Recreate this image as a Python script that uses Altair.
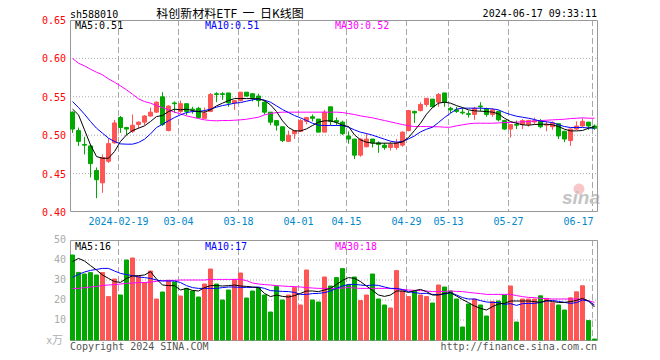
import altair as alt
import pandas as pd

# ---------------- data ----------------
opens = [0.530,0.506,0.488,0.486,0.454,0.438,0.466,0.490,0.523,0.510,
         0.505,0.514,0.517,0.525,0.530,0.550,0.506,0.542,0.531,0.541,
         0.534,0.535,0.522,0.531,0.554,0.554,0.555,0.542,0.545,0.556,
         0.554,0.551,0.543,0.530,0.519,0.511,0.492,0.502,0.505,0.518,
         0.524,0.521,0.504,0.537,0.519,0.517,0.499,0.495,0.474,0.485,
         0.495,0.490,0.487,0.484,0.484,0.487,0.506,0.531,0.532,0.540,
         0.547,0.543,0.555,0.535,0.533,0.530,0.528,0.527,0.538,0.534,
         0.527,0.531,0.519,0.508,0.514,0.514,0.514,0.5172,0.519,0.513,
         0.511,0.515,0.505,0.493,0.508,0.512,0.517,0.512]
closes = [0.508,0.492,0.487,0.463,0.442,0.471,0.489,0.516,0.510,0.508,
          0.513,0.517,0.525,0.530,0.543,0.514,0.538,0.541,0.541,0.531,
          0.533,0.523,0.529,0.553,0.553,0.553,0.542,0.545,0.556,0.551,
          0.549,0.545,0.530,0.517,0.513,0.493,0.500,0.506,0.519,0.523,
          0.522,0.504,0.530,0.518,0.517,0.502,0.495,0.474,0.495,0.495,
          0.490,0.488,0.484,0.488,0.490,0.504,0.532,0.529,0.540,0.548,
          0.537,0.553,0.543,0.533,0.531,0.529,0.527,0.535,0.537,0.527,
          0.533,0.520,0.508,0.514,0.513,0.519,0.519,0.5187,0.511,0.514,
          0.516,0.499,0.495,0.508,0.512,0.518,0.512,0.509]
highs = [0.531,0.510,0.498,0.488,0.458,0.475,0.496,0.520,0.525,0.511,
         0.527,0.518,0.526,0.536,0.544,0.556,0.539,0.544,0.545,0.541,
         0.537,0.537,0.536,0.555,0.556,0.556,0.555,0.545,0.556,0.556,
         0.554,0.554,0.545,0.530,0.519,0.511,0.506,0.506,0.521,0.524,
         0.527,0.521,0.533,0.537,0.523,0.519,0.505,0.495,0.496,0.502,
         0.495,0.492,0.490,0.491,0.495,0.505,0.533,0.532,0.543,0.548,
         0.547,0.555,0.555,0.537,0.537,0.535,0.532,0.537,0.543,0.536,
         0.535,0.532,0.520,0.514,0.519,0.521,0.520,0.523,0.521,0.518,
         0.518,0.515,0.506,0.509,0.518,0.522,0.517,0.514]
lows = [0.503,0.486,0.475,0.445,0.418,0.425,0.464,0.489,0.503,0.500,
        0.503,0.509,0.513,0.524,0.529,0.512,0.505,0.529,0.529,0.526,
        0.528,0.522,0.522,0.530,0.543,0.546,0.537,0.533,0.544,0.550,
        0.544,0.537,0.527,0.513,0.506,0.491,0.491,0.495,0.504,0.514,
        0.518,0.504,0.504,0.513,0.513,0.500,0.489,0.469,0.472,0.484,
        0.484,0.477,0.481,0.480,0.481,0.485,0.505,0.516,0.531,0.537,
        0.536,0.537,0.537,0.529,0.529,0.527,0.523,0.520,0.531,0.524,
        0.524,0.518,0.507,0.497,0.508,0.508,0.511,0.514,0.509,0.505,
        0.507,0.495,0.491,0.486,0.507,0.511,0.507,0.507]
volumes = [42.5,33.8,33.0,33.7,32.5,33.7,21.7,30.5,22.5,40.0,
           41.0,31.7,28.7,34.5,20.5,24.0,29.8,29.0,22.0,25.8,
           24.5,21.5,28.0,35.5,28.0,20.0,25.0,30.3,33.5,21.0,
           24.5,26.2,22.5,14.0,26.8,20.0,22.5,26.3,17.5,35.0,
           20.0,19.0,31.5,27.0,31.2,35.7,27.5,31.5,19.7,22.5,
           33.0,20.5,17.5,16.0,34.7,24.5,21.7,24.5,22.5,21.7,
           18.5,27.5,26.5,24.5,20.5,6.5,18.0,20.5,17.5,12.0,
           19.2,19.5,22.5,27.0,9.0,20.5,20.5,20.5,22.1,20.8,
           18.6,17.5,15.0,21.1,24.1,27.1,9.7,0.5]
ma5 = [0.534,0.5265,0.507,0.4874,0.4722,0.470,0.470,0.4787,0.4918,0.5004,
       0.506,0.5091,0.5122,0.5178,0.5243,0.5256,0.5308,0.5339,0.533,0.5339,
       0.5321,0.5308,0.530,0.533,0.5382,0.5417,0.5451,0.5477,0.5477,0.5477,
       0.5477,0.5473,0.5451,0.5395,0.5308,0.5187,0.510,0.5056,0.5056,0.5082,
       0.5126,0.517,0.5187,0.5187,0.5165,0.513,0.5113,0.5004,0.4939,0.4909,
       0.4896,0.4896,0.4896,0.4896,0.4896,0.4913,0.497,0.5061,0.5156,0.5273,
       0.536,0.5417,0.543,0.5417,0.5386,0.536,0.533,0.5317,0.5313,0.5308,
       0.530,0.5278,0.5221,0.5178,0.5156,0.5135,0.513,0.5139,0.5143,0.5143,
       0.5135,0.5113,0.5078,0.5056,0.5056,0.5061,0.5091,0.5113]
ma10 = [0.5438,0.536,0.5273,0.5178,0.5091,0.5026,0.4961,0.4918,0.4887,0.4883,
        0.4883,0.4905,0.4948,0.5017,0.510,0.5143,0.5187,0.523,0.5265,0.5295,
        0.5308,0.5308,0.5321,0.5339,0.5365,0.5386,0.540,0.5417,0.5425,0.5443,
        0.546,0.5473,0.5456,0.543,0.5382,0.5334,0.5295,0.5256,0.5226,0.5191,
        0.5156,0.513,0.5126,0.5126,0.5126,0.5126,0.5104,0.5069,0.5039,0.5022,
        0.500,0.4974,0.4948,0.4922,0.4909,0.4918,0.4952,0.4991,0.5043,0.5078,
        0.5104,0.5165,0.523,0.5286,0.5339,0.5352,0.5352,0.5352,0.5352,0.5347,
        0.5343,0.533,0.5295,0.5269,0.5247,0.5234,0.5221,0.5204,0.5183,0.5174,
        0.5165,0.5135,0.5113,0.510,0.510,0.510,0.5095,0.5091]
ma30 = [0.600,0.5937,0.5903,0.5859,0.582,0.5786,0.5733,0.569,0.5642,0.559,
        0.5534,0.5473,0.5438,0.5417,0.5386,0.536,0.533,0.530,0.5278,0.5252,
        0.5234,0.5217,0.520,0.5191,0.5187,0.5191,0.5191,0.5195,0.520,0.5208,
        0.5221,0.5234,0.5265,0.5282,0.5295,0.530,0.530,0.530,0.530,0.530,
        0.530,0.530,0.530,0.530,0.530,0.5295,0.5282,0.5269,0.5252,0.5239,
        0.5226,0.5208,0.5191,0.5174,0.5156,0.5139,0.5122,0.5113,0.5113,0.5113,
        0.511,0.511,0.5104,0.5104,0.5122,0.5135,0.5148,0.5156,0.5156,0.5156,
        0.5156,0.516,0.5165,0.5165,0.517,0.5174,0.5178,0.5187,0.5191,0.5195,
        0.520,0.5204,0.5208,0.5217,0.5221,0.5226,0.5221,0.5221]
vma5 = [39.2,40.8,39.5,37.2,35.0,32.5,30.8,29.2,28.8,30.8,
        32.0,32.2,32.5,34.2,30.5,27.5,27.2,27.2,25.0,25.8,
        24.8,24.5,26.2,27.2,27.2,27.0,27.2,27.5,27.0,26.8,
        26.5,26.2,23.3,21.7,22.5,21.8,21.5,22.2,23.3,24.5,
        24.5,24.2,25.0,25.8,27.8,29.8,31.2,30.8,29.2,27.0,
        24.8,22.5,21.8,22.5,24.5,24.5,23.8,24.7,25.3,24.2,
        22.5,22.5,23.3,23.7,22.0,20.2,18.7,17.0,15.8,15.0,
        16.7,18.0,18.3,19.5,19.5,19.5,19.5,19.2,18.8,19.8,
        19.2,18.8,18.8,19.2,19.8,20.8,19.5,16.5]
vma10 = [31.3,32.8,34.0,34.8,35.3,35.8,35.8,34.5,33.3,32.7,
         32.2,31.5,31.2,30.8,30.0,29.5,29.5,29.5,28.7,27.2,
         26.2,25.8,25.8,25.8,25.8,26.2,26.5,26.5,26.3,26.3,
         26.3,26.5,25.8,24.7,24.5,24.3,24.2,23.8,22.8,22.8,
         23.2,23.3,23.7,24.5,25.8,27.0,27.8,27.8,27.5,27.2,
         27.5,27.3,26.5,25.8,25.8,25.2,24.2,23.7,23.3,23.3,
         22.8,22.7,23.0,23.7,22.5,21.2,20.5,20.5,19.7,19.0,
         18.8,18.7,17.8,18.2,17.3,18.2,18.3,18.3,18.8,19.5,
         19.8,19.3,18.8,18.3,18.7,20.0,19.5,17.5]
vma30 = [25.7,25.8,26.2,26.5,26.8,27.3,27.5,27.7,28.0,28.3,
         28.5,28.7,28.7,29.0,29.3,29.7,29.8,29.8,30.0,30.0,
         30.0,30.0,30.0,30.3,30.3,30.3,30.3,30.3,30.3,29.7,
         28.5,28.0,27.7,27.5,27.2,27.0,26.8,26.7,26.5,26.2,
         26.0,25.8,25.8,25.8,25.8,26.0,26.2,26.0,25.8,25.8,
         25.8,25.8,25.8,25.8,25.5,25.3,25.0,24.8,24.7,24.5,
         24.2,24.2,24.3,24.5,24.3,24.2,23.8,23.5,23.2,22.8,
         22.8,22.8,22.8,22.8,22.2,21.7,21.3,21.2,20.8,20.7,
         20.5,20.5,20.5,20.5,20.5,20.3,19.6,18.8]

date_idx = [8, 18, 28, 38, 46, 56, 63, 73]
date_labels = ["2024-02-19", "03-04", "03-18", "04-01", "04-15", "04-29", "05-13", "05-27"]
last_idx = [87]
last_label = ["06-17"]
price_ticks = [0.65, 0.60, 0.55, 0.50, 0.45, 0.40]
price_tick_labels = ["0.65", "0.60", "0.55", "0.50", "0.45", "0.40"]
price_grid = [0.60, 0.55, 0.50, 0.45]
vol_ticks = [50, 40, 30, 20, 10]
vol_tick_labels = ["50", "40", "30", "20", "10"]
vol_grid = [40, 30, 20, 10]

# ---------------- styling ----------------
MONO = "DejaVu Sans Mono"
CJK = "Noto Sans CJK SC"
RED = "#ff5555"
GREEN = "#00a800"
GRID = "#a8a8a8"
FRAME = "#999999"

XS = alt.Scale(domain=[0, 88], range=[0, 528], nice=False, zero=False)
PY = alt.Scale(domain=[0.40, 0.65], range=[192, 0], nice=False, zero=False)
VY = alt.Scale(domain=[0, 50], range=[320, 220], nice=False, zero=False)
CS = alt.Scale(domain=["up", "down"], range=[RED, GREEN])

n = len(opens)
df = pd.DataFrame({
    "k": list(range(n)), "open": opens, "close": closes, "high": highs, "low": lows,
    "vol": volumes, "ma5": ma5, "ma10": ma10, "ma30": ma30,
    "vma5": vma5, "vma10": vma10, "vma30": vma30,
})

base = alt.Chart(df).transform_calculate(
    xa="datum.k + 0.5/6", xb="datum.k + 4.5/6", xc="datum.k + 2.5/6", v0="0",
    dir="datum.close >= datum.open ? 'up' : 'down'",
)

def X(f):
    return alt.X(f, scale=XS, axis=None)

# frames
frame_df = pd.DataFrame({"a": [0], "b": [88]})
frames = []
frames.append(alt.Chart(frame_df).transform_calculate(
    x0="datum.a + 1/12", x1="datum.b - 1/12",
    y0="0.65 - 0.5/768", y1="0.65 - 191.5/768").mark_rect(
    fill="transparent", stroke=FRAME, strokeWidth=1).encode(
    x=X("x0:Q"), x2="x1:Q", y=alt.Y("y0:Q", scale=PY, axis=None), y2="y1:Q"))
frames.append(alt.Chart(frame_df).transform_calculate(
    x0="datum.a + 1/12", x1="datum.b - 1/12",
    y0="50 - 0.25", y1="-0.25").mark_rect(
    fill="transparent", stroke=FRAME, strokeWidth=1).encode(
    x=X("x0:Q"), x2="x1:Q", y=alt.Y("y0:Q", scale=VY, axis=None), y2="y1:Q"))

# grids
pg = alt.Chart(pd.DataFrame({"p": price_grid})).transform_calculate(
    x0="0", x1="88").mark_rule(color=GRID, strokeDash=[1, 2], strokeWidth=1).encode(
    x=X("x0:Q"), x2="x1:Q", y=alt.Y("p:Q", scale=PY, axis=None))
vg = alt.Chart(pd.DataFrame({"v": vol_grid})).transform_calculate(
    x0="0", x1="88").mark_rule(color=GRID, strokeDash=[1, 2], strokeWidth=1).encode(
    x=X("x0:Q"), x2="x1:Q", y=alt.Y("v:Q", scale=VY, axis=None))
all_idx = date_idx + last_idx
dg1 = alt.Chart(pd.DataFrame({"i": all_idx})).transform_calculate(
    xg="datum.i + 1/12", y0="0.65", y1="0.40").mark_rule(
    color=GRID, strokeDash=[6, 3], strokeWidth=1).encode(
    x=X("xg:Q"), y=alt.Y("y0:Q", scale=PY, axis=None), y2="y1:Q")
dg2 = alt.Chart(pd.DataFrame({"i": all_idx})).transform_calculate(
    xg="datum.i + 1/12", y0="50", y1="0").mark_rule(
    color=GRID, strokeDash=[6, 3], strokeWidth=1).encode(
    x=X("xg:Q"), y=alt.Y("y0:Q", scale=VY, axis=None), y2="y1:Q")

# candles
wicks = base.mark_rule(strokeWidth=1).encode(
    x=X("xc:Q"), y=alt.Y("low:Q", scale=PY, axis=None), y2="high:Q",
    color=alt.Color("dir:N", scale=CS, legend=None))
bodies = base.mark_rect(strokeWidth=1).encode(
    x=X("xa:Q"), x2="xb:Q", y=alt.Y("open:Q", scale=PY, axis=None), y2="close:Q",
    color=alt.Color("dir:N", scale=CS, legend=None),
    stroke=alt.Stroke("dir:N", scale=CS, legend=None))
vbars = base.mark_rect(strokeWidth=1).encode(
    x=X("xa:Q"), x2="xb:Q", y=alt.Y("vol:Q", scale=VY, axis=None), y2="v0:Q",
    color=alt.Color("dir:N", scale=CS, legend=None),
    stroke=alt.Stroke("dir:N", scale=CS, legend=None))

def line(field, sc, color):
    return base.mark_line(color=color, strokeWidth=1).encode(
        x=X("xc:Q"), y=alt.Y(field + ":Q", scale=sc, axis=None))

lines = [line("ma30", PY, "#ff00ff"), line("ma10", PY, "#0000ff"), line("ma5", PY, "#000000"),
         line("vma30", VY, "#ff00ff"), line("vma10", VY, "#0000ff"), line("vma5", VY, "#000000")]

# axis labels
ptxt = alt.Chart(pd.DataFrame({"p": price_ticks, "t": price_tick_labels})).mark_text(
    align="right", baseline="middle", font=MONO, fontSize=10, color="#ff0000", dy=1).encode(
    x=alt.value(-4), y=alt.Y("p:Q", scale=PY, axis=None), text="t:N")
vtxt = alt.Chart(pd.DataFrame({"v": vol_ticks, "t": vol_tick_labels})).mark_text(
    align="right", baseline="middle", font=MONO, fontSize=10, color="#aaaaaa", dy=0).encode(
    x=alt.value(-4), y=alt.Y("v:Q", scale=VY, axis=None), text="t:N")
dtxt = alt.Chart(pd.DataFrame({"i": date_idx, "t": date_labels})).transform_calculate(
    xg="datum.i + 1/12").mark_text(
    align="center", baseline="middle", font=MONO, fontSize=10, color="#0088cc").encode(
    x=X("xg:Q"), y=alt.value(202), text="t:N")
dtxt2 = alt.Chart(pd.DataFrame({"i": last_idx, "t": last_label})).transform_calculate(
    xg="datum.i + 1/12").mark_text(
    align="right", baseline="middle", font=MONO, fontSize=10, color="#0088cc", dx=1).encode(
    x=X("xg:Q"), y=alt.value(202), text="t:N")

def label(text, x, y, color, font=MONO, size=10, align="left", **kw):
    return alt.Chart(pd.DataFrame({"t": [text]})).mark_text(
        align=align, baseline="middle", font=font, fontSize=size, color=color, **kw).encode(
        x=alt.value(x), y=alt.value(y), text="t:N")

texts = [
    label("sh588010", 0, -5.5, "#000000"),
    label("科创新材料ETF\u00a0\u00a0一\u00a0\u00a0日K线图", 160, -6, "#000000",
          font=CJK, size=12, align="center"),
    label("2024-06-17 09:33:11", 527, -6, "#000000", align="right"),
    label("MA5:0.51", 5, 6, "#000000"),
    label("MA10:0.51", 135, 6, "#0000ff"),
    label("MA30:0.52", 265, 6, "#ff00ff"),
    label("MA5:16", 5, 226.5, "#000000"),
    label("MA10:17", 135, 226.5, "#0000ff"),
    label("MA30:18", 265, 226.5, "#ff00ff"),
    label("x万", -7, 321, "#b0b0b0", font=CJK, size=11, align="right"),
    label("Copyright 2024 SINA.COM", 0, 326.5, "#555555"),
    label("http://finance.sina.com.cn", 527, 327, "#555555", align="right"),
]
eye = alt.Chart(pd.DataFrame({"t": ["o"]})).mark_point(
    filled=True, color="#f6b8b8", size=120, opacity=0.8).encode(
    x=alt.value(509), y=alt.value(169))
sina = label("sina", 511, 178, "#c4c4c4", font="Liberation Sans", size=19,
             align="center", fontStyle="italic", fontWeight="bold")

layers = [pg, vg, dg1, dg2, eye, sina, frames[0], frames[1], wicks, bodies, vbars] + lines + \
         [ptxt, vtxt, dtxt, dtxt2] + texts

chart = alt.layer(*layers).resolve_scale(
    x="independent", y="independent"
).properties(
    width=528, height=320,
    autosize=alt.AutoSizeParams(type="none"),
    padding={"left": 62, "top": 12, "right": 54, "bottom": 12},
    background="white",
).configure_view(strokeWidth=0)

chart.save("out.html", embed_options={"renderer": "svg", "actions": False})
